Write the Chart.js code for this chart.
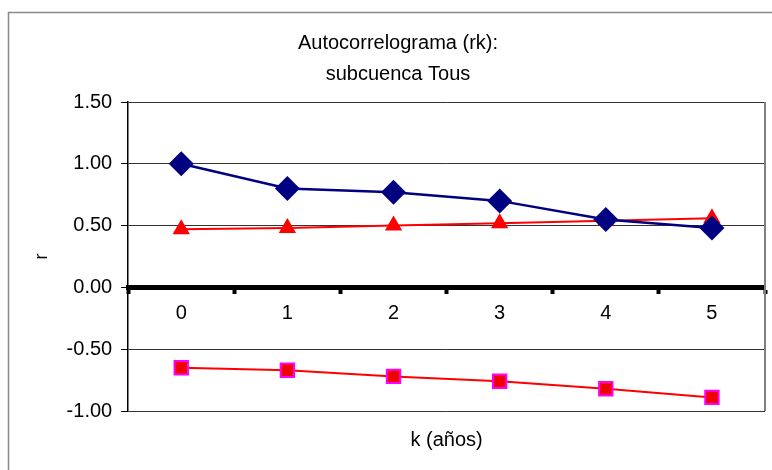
<!DOCTYPE html>
<html>
<head>
<meta charset="utf-8">
<script src="https://cdn.jsdelivr.net/npm/chart.js@4"></script>
<style>
  html, body { margin: 0; padding: 0; background: #fff; }
  #wrap { width: 772px; height: 470px; }
</style>
</head>
<body>
<div id="wrap"><canvas id="grafico" width="772" height="470"></canvas></div>
<script>
const retardos = ["0", "1", "2", "3", "4", "5"];
const rkTous = [1.0, 0.8, 0.77, 0.7, 0.55, 0.48];
const limiteSup = [0.47, 0.48, 0.5, 0.52, 0.54, 0.56];
const limiteInf = [-0.65, -0.67, -0.72, -0.76, -0.82, -0.89];

const fuente = "'Liberation Sans', Arial, sans-serif";

// marco exterior y borde derecho del area de trazado
const marco = {
  id: "marco",
  beforeDraw(chart) {
    const c = chart.ctx;
    c.save();
    c.fillStyle = "#fff";
    c.fillRect(0, 0, chart.width, chart.height);
    c.strokeStyle = "#8a8a8a";
    c.lineWidth = 1.5;
    c.strokeRect(8.5, 12.5, chart.width + 20, chart.height + 20);
    c.restore();
  },
  afterDraw(chart) {
    const a = chart.chartArea;
    const c = chart.ctx;
    c.save();
    c.strokeStyle = "#808080";
    c.lineWidth = 2;
    c.beginPath();
    c.moveTo(a.right, a.top);
    c.lineTo(a.right, a.bottom);
    c.stroke();
    c.restore();
  },
};

// sin margen extra a los lados por las etiquetas del eje x
const sinMargen = (s) => {
  s.paddingLeft = 0;
  s.paddingRight = 0;
};

new Chart(document.getElementById("grafico"), {
  type: "line",
  data: {
    labels: retardos,
    datasets: [
      {
        label: "rk",
        data: rkTous,
        borderColor: "#000080",
        backgroundColor: "#000080",
        borderWidth: 2.5,
        pointStyle: "rectRot",
        pointRadius: 12.5,
        pointBorderWidth: 0,
      },
      {
        label: "limite superior",
        data: limiteSup,
        borderColor: "#ff0000",
        backgroundColor: "#ff0000",
        borderWidth: 2,
        pointStyle: "triangle",
        pointRadius: 10,
        pointBorderWidth: 0,
      },
      {
        label: "limite inferior",
        data: limiteInf,
        borderColor: "#ff0000",
        backgroundColor: "#ee0000",
        pointBorderColor: "#ff00ff",
        borderWidth: 2,
        pointStyle: "rect",
        pointRadius: 9.5,
        pointBorderWidth: 2,
      },
    ],
  },
  options: {
    responsive: false,
    animation: false,
    layout: {
      autoPadding: false,
      padding: { top: 12, right: 7, left: 31, bottom: 4 },
    },
    plugins: {
      legend: { display: false },
      tooltip: { enabled: false },
      title: {
        display: true,
        text: ["Autocorrelograma (rk):", "subcuenca Tous"],
        color: "#000",
        font: { family: fuente, size: 20, weight: "normal", lineHeight: 1.55 },
        padding: { top: 16, bottom: 12 },
      },
    },
    scales: {
      x: {
        type: "category",
        position: { y: 0 },
        offset: true,
        afterFit: sinMargen,
        grid: {
          offset: true,
          drawOnChartArea: false,
          drawTicks: true,
          tickLength: 4,
          tickWidth: 4,
          tickColor: "#000",
        },
        border: { display: true, color: "#000", width: 5 },
        ticks: {
          color: "#000",
          padding: 10,
          font: { family: fuente, size: 20 },
        },
      },
      x2: {
        type: "category",
        position: "bottom",
        offset: true,
        afterFit: sinMargen,
        grid: { display: false, drawTicks: false },
        border: { display: false },
        ticks: { display: false },
        title: {
          display: true,
          text: "k (años)",
          color: "#000",
          font: { family: fuente, size: 20 },
          padding: { top: 17, bottom: 14 },
        },
      },
      y: {
        min: -1,
        max: 1.5,
        ticks: {
          stepSize: 0.5,
          color: "#000",
          padding: 9,
          font: { family: fuente, size: 20 },
          callback: (v) => v.toFixed(2),
        },
        grid: {
          color: "#333",
          lineWidth: 1,
          tickLength: 7,
          tickColor: "#000",
        },
        border: { display: true, color: "#000", width: 1.5 },
        title: {
          display: true,
          text: "r",
          color: "#000",
          font: { family: fuente, size: 18 },
          padding: { top: 0, bottom: 5 },
        },
      },
    },
  },
  plugins: [marco],
});
</script>
</body>
</html>
